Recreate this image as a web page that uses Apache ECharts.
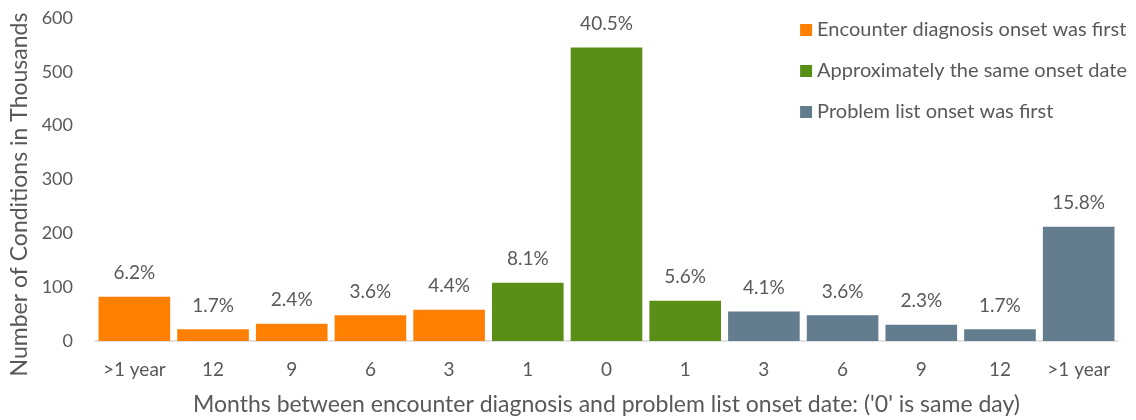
<!DOCTYPE html>
<html><head><meta charset="utf-8">
<script src="https://cdn.jsdelivr.net/npm/echarts@6/dist/echarts.min.js"></script>
<style>html,body{margin:0;padding:0;background:#fff}#c{width:1136px;height:420px}</style>
</head><body><div id="c"></div>
<script>
const categories = ['>1 year','12','9','6','3','1','0','1','3','6','9','12','>1 year'];
const encounterFirst = [82, 22, 32, 48, 58, null, null, null, null, null, null, null, null];
const sameDate       = [null, null, null, null, null, 108, 545, 75, null, null, null, null, null];
const problemFirst   = [null, null, null, null, null, null, null, null, 55, 48, 30, 22, 212];
const pctLabels = ['6.2%','1.7%','2.4%','3.6%','4.4%','8.1%','40.5%','5.6%','4.1%','3.6%','2.3%','1.7%','15.8%'];
const seriesNames = ['Encounter diagnosis onset was first','Approximately the same onset date','Problem list onset was first'];
const yTicks = [0, 600, 100];

const FONT = 'Lato';
const TXT = '#595959';
const colors = ['#FF8000', '#5A8F17', '#637D8F'];

function mk(name, data, color) {
  return {
    name, type: 'bar', stack: 'all', data, barCategoryGap: '9%',
    itemStyle: { color },
    label: {
      show: true, position: 'top', distance: 14,
      fontFamily: FONT, fontSize: 19, color: TXT,
      formatter: p => pctLabels[p.dataIndex]
    }
  };
}

const chart = echarts.init(document.getElementById('c'), null, { renderer: 'canvas' });
chart.setOption({
  animation: false,
  textStyle: { fontFamily: FONT },
  grid: { left: 95, right: 18, top: 18, bottom: 79, containLabel: false, outerBoundsMode: 'none' },
  legend: {
    orient: 'vertical', right: 4, top: 15, itemGap: 21,
    itemWidth: 12, itemHeight: 12, icon: 'rect',
    textStyle: { fontFamily: FONT, fontSize: 20, color: TXT },
    data: seriesNames
  },
  xAxis: {
    type: 'category', data: categories,
    name: "Months between encounter diagnosis and problem list onset date: ('0' is same day)",
    nameLocation: 'middle', nameGap: 52,
    nameTextStyle: { fontFamily: FONT, fontSize: 23, color: TXT },
    axisLine: { lineStyle: { color: '#d9d9d9', width: 1.5 } },
    axisTick: { show: false },
    axisLabel: { interval: 0, fontFamily: FONT, fontSize: 19, color: TXT, margin: 19 }
  },
  yAxis: {
    type: 'value', min: yTicks[0], max: yTicks[1], interval: yTicks[2],
    name: 'Number of Conditions in Thousands',
    nameLocation: 'middle', nameGap: 62,
    nameTextStyle: { fontFamily: FONT, fontSize: 23, color: TXT, padding: [0, 30, 0, 0] },
    axisLine: { show: false }, axisTick: { show: false },
    splitLine: { show: false },
    axisLabel: { fontFamily: FONT, fontSize: 18, color: TXT, margin: 22 }
  },
  series: [
    mk(seriesNames[0], encounterFirst, colors[0]),
    mk(seriesNames[1], sameDate, colors[1]),
    mk(seriesNames[2], problemFirst, colors[2])
  ]
});
</script></body></html>
